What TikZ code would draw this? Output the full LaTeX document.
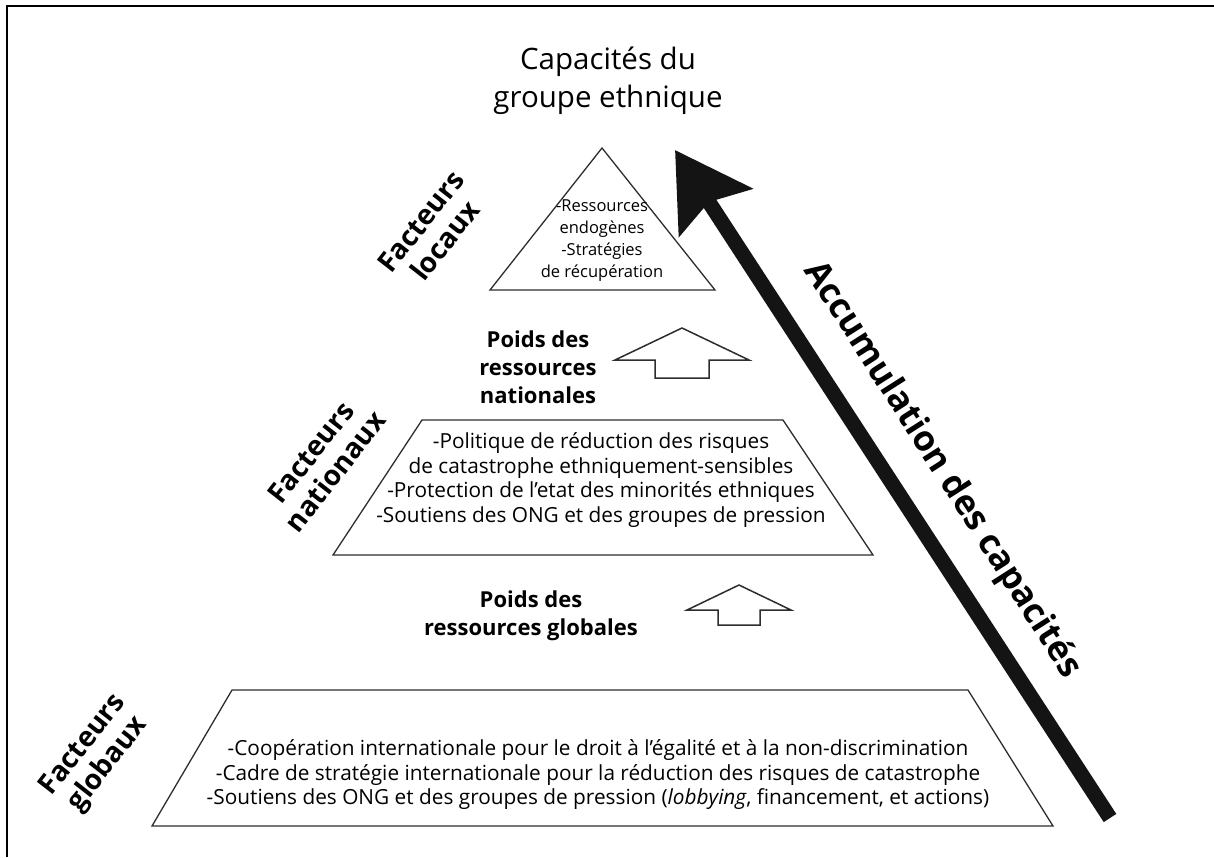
\documentclass[tikz,border=0pt]{standalone}
\usepackage{fontspec}
\setmainfont{Open Sans}
\usetikzlibrary{arrows.meta, positioning}
\definecolor{inkgray}{RGB}{45,45,45}
\definecolor{inkblack}{RGB}{20,20,20}
\tikzset{
  tier/.style={draw=inkgray, line width=1.3pt, line join=miter},
  bodytext/.style={font=\fontsize{20.8}{24.5}\selectfont, align=center},
  toptext/.style={font=\fontsize{16.5}{22}\selectfont, align=center},
  weighttext/.style={font=\fontsize{22}{28}\selectfont\bfseries, align=center},
  factortext/.style={font=\fontsize{28}{31}\selectfont\bfseries, align=center, rotate=52},
  blockarrow/.style={draw=inkgray, line width=1.5pt, line join=miter, fill=white},
}

\begin{document}
\begin{tikzpicture}[x=1pt, y=-1pt]
  \useasboundingbox (0,0) rectangle (1214,857);
  % frame, top and left only
  \draw[line width=2.5pt] (1214,6) -- (7,6) -- (7,857);

  \node[font=\fontsize{29.5}{38}\selectfont, align=center] (title) at (608,81)
       {Capacités du\\groupe ethnique};

  % local tier
  \draw[tier] (602,148) -- (715,290) -- (490,290) -- cycle;
  \node[toptext] (localtxt) at (602,241)
       {-Ressources\\endogènes\\-Stratégies\\de récupération};
  \node[factortext] (localfac) at (433,231) {Facteurs\\locaux};

  % national tier
  \node[weighttext] (natweight) at (538,367) {Poids des\\ressources\\nationales};
  \draw[blockarrow] (682,328) -- ++(67,32) -- ++(-40,0) -- ++(0,18)
        -- ++(-54,0) -- ++(0,-18) -- ++(-40,0) -- cycle;
  \draw[tier] (422,420) -- (783,420) -- (873,555) -- (333,555) -- cycle;
  \node[bodytext] (nattxt) at (601,480)
       {-Politique de réduction des risques\\
        de catastrophe ethniquement-sensibles\\
        -Protection de l’etat des minorités ethniques\\
        -Soutiens des ONG et des groupes de pression};
  \node[factortext] (natfac) at (323,462) {Facteurs\\nationaux};

  % global tier
  \node[weighttext] (globweight) at (531,616) {Poids des\\ressources globales};
  \draw[blockarrow] (739,585) -- ++(52,25) -- ++(-31,0) -- ++(0,15)
        -- ++(-42,0) -- ++(0,-15) -- ++(-31,0) -- cycle;
  \draw[tier] (232,690) -- (968,690) -- (1053,826) -- (152,826) -- cycle;
  \node[bodytext] (globtxt) at (598,775)
       {-Coopération internationale pour le droit à l'égalité et à la non-discrimination\\
        -Cadre de stratégie internationale pour la réduction des risques de catastrophe\\
        -Soutiens des ONG et des groupes de pression (\textit{lobbying}, financement, et actions)};
  \node[factortext] (globfac) at (96,755) {Facteurs\\globaux};

  % accumulation arrow
  \coordinate (accbase) at (1110,818);
  \coordinate (acctip) at (675,150);
  \draw[inkblack, line width=15pt,
        -{Stealth[length=74pt, width=86pt, inset=12pt]}] (accbase) -- (acctip);
  \node[font=\fontsize{35}{38}\selectfont\bfseries, rotate=-57.5] (acclabel)
       at (942,470) {Accumulation des capacités};
\end{tikzpicture}
\end{document}
